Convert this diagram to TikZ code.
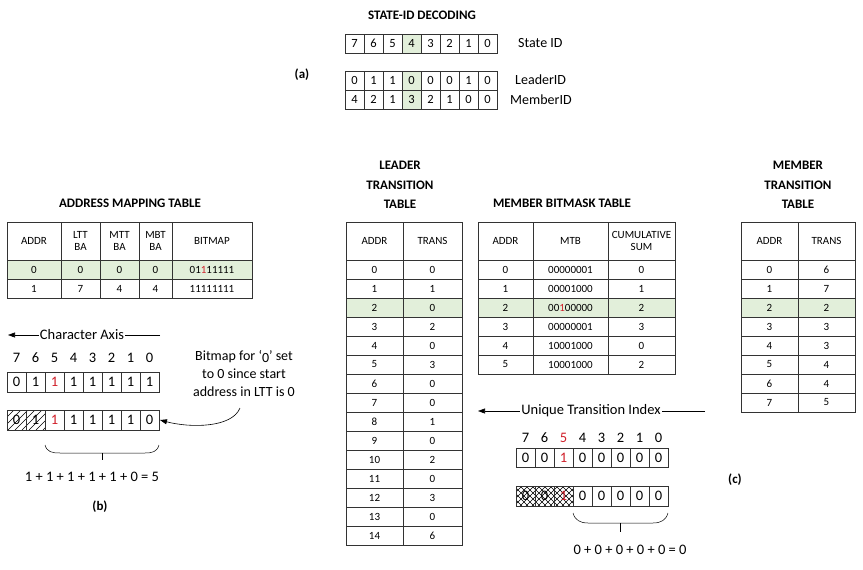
\documentclass[tikz,border=0pt]{standalone}
\usepackage{fontspec}
\setmainfont{Carlito}
\usetikzlibrary{patterns,decorations.pathreplacing,arrows.meta}
\definecolor{gr}{HTML}{E2EFDA}
\definecolor{rd}{HTML}{D0202A}
\tikzset{ln/.style={draw=black!80,line width=0.6pt},
 t/.style={font=\fontsize{11}{12}\selectfont,align=center,inner sep=0pt},
 b/.style={font=\fontsize{14.5}{15}\selectfont,inner sep=0pt},
 ttl/.style={font=\bfseries\fontsize{13}{19.5}\selectfont,align=center,inner sep=0pt},
 arr/.style={-{Triangle[length=7pt,width=5pt]},line width=0.6pt}}
\begin{document}
\begin{tikzpicture}[x=1pt,y=-1pt]
\useasboundingbox (0,0) rectangle (863,570);
% (a)
\node[ttl] (ta) at (422,15) {STATE-ID DECODING};
\fill[gr] (402,34) rectangle (421,53);
\fill[gr] (402,71) rectangle (421,109);
\foreach \v [count=\i from 0] in {7,6,5,4,3,2,1,0}
 {\draw[ln] (345+19*\i,34) rectangle ++(19,19); \node[t,font=\fontsize{12.5}{13}\selectfont] (s\i) at (354.5+19*\i,43.5) {\v};}
\foreach \v [count=\i from 0] in {0,1,1,0,0,0,1,0}
 {\draw[ln] (345+19*\i,71) rectangle ++(19,19); \node[t,font=\fontsize{12.5}{13}\selectfont] (l\i) at (354.5+19*\i,80.5) {\v};}
\foreach \v [count=\i from 0] in {4,2,1,3,2,1,0,0}
 {\draw[ln] (345+19*\i,90) rectangle ++(19,19); \node[t,font=\fontsize{12.5}{13}\selectfont] (m\i) at (354.5+19*\i,99.5) {\v};}
\node[t,font=\fontsize{14}{15}\selectfont,anchor=west] (sid) at (518,43) {State ID};
\node[t,font=\fontsize{14}{15}\selectfont,anchor=west] (lid) at (515,80) {LeaderID};
\node[t,font=\fontsize{14}{15}\selectfont,anchor=west] (mid) at (510,100) {MemberID};
\node[ttl] (la) at (302,75) {(a)};
% Address mapping table
\node[ttl] (tam) at (130,203) {ADDRESS MAPPING TABLE};
\fill[gr] (7,260) rectangle (252,279);
\draw[ln] (7,222) rectangle (252,298);
\foreach \x in {61,100,139,172} \draw[ln] (\x,222) -- (\x,298);
\draw[ln] (7,260) -- (252,260); \draw[ln] (7,279) -- (252,279);
\node[t] (h1) at (34,241) {ADDR}; \node[t] (h2) at (80.5,241) {LTT\\BA};
\node[t] (h3) at (119.5,241) {MTT\\BA}; \node[t] (h4) at (155.5,241) {MBT\\BA};
\node[t] (h5) at (212,241) {BITMAP};
\foreach \a/\b/\c/\d [count=\r from 0] in {0/0/0/0,1/7/4/4}
 {\node[t] at (34,269.5+19*\r) {\a}; \node[t] at (80.5,269.5+19*\r) {\b};
  \node[t] at (119.5,269.5+19*\r) {\c}; \node[t] at (155.5,269.5+19*\r) {\d};}
\node[t] (bm0) at (212,269.5) {01\textcolor{rd}{1}11111};
\node[t] (bm1) at (212,288.5) {11111111};
% Leader transition table
\node[ttl] (tlt) at (400,185) {LEADER\\TRANSITION\\TABLE};
\fill[gr] (346,298) rectangle (462,317);
\draw[ln] (346,222) rectangle (462,545);
\draw[ln] (403,222) -- (403,545);
\node[t] at (374.5,241) {ADDR}; \node[t] at (432.5,241) {TRANS};
\foreach \v [count=\r from 0] in {0,1,0,2,0,3,0,0,1,0,2,0,3,0,6}
 {\draw[ln] (346,260+19*\r) -- (462,260+19*\r);
  \node[t] at (374.5,269.5+19*\r) {\r}; \node[t] at (432.5,269.5+19*\r) {\v};}
% Member bitmask table
\node[ttl] (tmb) at (562,203) {MEMBER BITMASK TABLE};
\fill[gr] (478,298) rectangle (675,317);
\draw[ln] (478,222) rectangle (675,374);
\draw[ln] (533,222) -- (533,374); \draw[ln] (608,222) -- (608,374);
\node[t] at (505.5,241) {ADDR}; \node[t] at (570.5,241) {MTB}; \node[t] at (641.5,241) {CUMULATIVE\\SUM};
\foreach \m/\c [count=\r from 0] in {00000001/0,00001000/1,00{\textcolor{rd}{1}}00000/2,00000001/3,10001000/0,10001000/2}
 {\draw[ln] (478,260+19*\r) -- (675,260+19*\r);
  \node[t] at (505.5,269.5+19*\r) {\r}; \node[t] at (570.5,269.5+19*\r) {\m}; \node[t] at (641.5,269.5+19*\r) {\c};}
% Member transition table
\node[ttl] (tmt) at (798,185) {MEMBER\\TRANSITION\\TABLE};
\fill[gr] (741,298) rectangle (855,317);
\draw[ln] (741,222) rectangle (855,412);
\draw[ln] (798,222) -- (798,412);
\node[t] at (769.5,241) {ADDR}; \node[t] at (826.5,241) {TRANS};
\foreach \v [count=\r from 0] in {6,7,2,3,3,4,4,5}
 {\draw[ln] (741,260+19*\r) -- (855,260+19*\r);
  \node[t] at (769.5,269.5+19*\r) {\r}; \node[t] at (826.5,269.5+19*\r) {\v};}
% (b)
\coordinate (ca1) at (160,335); \coordinate (ca0) at (8,335);
\draw[arr] (ca1) -- (ca0);
\node[b,fill=white,inner xsep=1pt] (cax) at (82,335) {Character Axis};
\foreach \v [count=\i from 0] in {7,6,5,4,3,2,1,0}
 {\node[b] (bi\i) at (16.5+19*\i,358) {\v};}
\foreach \v [count=\i from 0] in {0,1,\textcolor{rd}{1},1,1,1,1,1}
 {\draw[ln] (7+19*\i,372) rectangle ++(19,20); \node[b] (br\i) at (16.5+19*\i,382) {\v};}
\begin{scope}
\clip (7,410) rectangle (45,430);
\foreach \k in {-20,-13,...,60} \draw[line width=0.5pt] (\k,430) -- (\k+20,410);
\end{scope}
\foreach \v [count=\i from 0] in {0,1,\textcolor{rd}{1},1,1,1,1,0}
 {\draw[ln] (7+19*\i,410) rectangle ++(19,20); \node[b] (bs\i) at (16.5+19*\i,420) {\v};}
\coordinate (bb) at (160,420);
\draw[line width=0.5pt] (45,445) .. controls (47,452) and (52,453) .. (60,453) -- (145,453) .. controls (152,453) and (157,452) .. (159,445);
\draw[line width=0.5pt] (102,453) -- (102,460);
\node[b] (sumb) at (92,477) {1 + 1 + 1 + 1 + 1 + 0 = 5};
\node[ttl] (lb) at (100,507) {(b)};
\node[b,align=center,font=\fontsize{14}{18}\selectfont] (note) at (244,373) {Bitmap for `\raisebox{-0.4ex}{0}' set\\to 0 since start\\address in LTT is 0};
\draw[arr] (240,408) .. controls (232,428) and (190,428) .. (bb);
% (c)
\coordinate (ui1) at (705,411); \coordinate (ui0) at (478,411);
\draw[arr] (ui1) -- (ui0);
\node[b,fill=white,inner xsep=1pt] (uti) at (591,411) {Unique Transition Index};
\foreach \v [count=\i from 0] in {7,6,\textcolor{rd}{5},4,3,2,1,0}
 {\node[b] (ci\i) at (525.5+19*\i,438) {\v};}
\foreach \v [count=\i from 0] in {0,0,\textcolor{rd}{1},0,0,0,0,0}
 {\draw[ln] (516+19*\i,448) rectangle ++(19,19); \node[b] (cr\i) at (525.5+19*\i,457.5) {\v};}
\begin{scope}
\clip (516,486) rectangle (573,506);
\foreach \k in {490,496,...,580} {\draw[line width=0.4pt] (\k,506) -- (\k+20,486); \draw[line width=0.4pt] (\k,486) -- (\k+20,506);}
\end{scope}
\foreach \v [count=\i from 0] in {0,0,\textcolor{rd}{1},0,0,0,0,0}
 {\draw[ln] (516+19*\i,486) rectangle ++(19,20); \node[b] (cs\i) at (525.5+19*\i,496) {\v};}
\draw[line width=0.5pt] (573,513) .. controls (575,520) and (580,523) .. (588,523) -- (653,523) .. controls (661,523) and (666,520) .. (668,513);
\draw[line width=0.5pt] (620,523) -- (620,532);
\node[b] (sumc) at (630,550) {0 + 0 + 0 + 0 + 0 = 0};
\node[ttl] (lc) at (735,480) {(c)};
\end{tikzpicture}
\end{document}
